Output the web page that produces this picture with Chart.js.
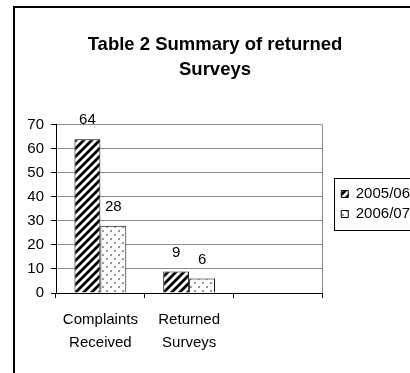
<!DOCTYPE html>
<html>
<head>
<meta charset="utf-8">
<script src="https://cdn.jsdelivr.net/npm/chart.js@4.4.1/dist/chart.umd.min.js"></script>
<style>
  html, body { margin: 0; padding: 0; background: #fff; overflow: hidden; }
  #wrap { position: relative; width: 410px; height: 373px; overflow: hidden; }
  #surveyChart { position: absolute; left: 0; top: 0; }
</style>
</head>
<body>
<div id="wrap"><canvas id="surveyChart" width="421" height="408"></canvas></div>
<script>
const categories = [['Complaints', 'Received'], ['Returned', 'Surveys'], ''];
const seriesNames = ['2005/06', '2006/07'];
const values0506 = [64, 9, null];
const values0607 = [28, 6, null];
const yTicks = [0, 10, 20, 30, 40, 50, 60, 70];

const FONT = '"Liberation Sans", Arial, sans-serif';
Chart.defaults.font.family = FONT;
Chart.defaults.color = '#000';

// hatch fills like the old excel chart
function stripePattern() {
  const c = document.createElement('canvas');
  c.width = 8; c.height = 8;
  const g = c.getContext('2d');
  g.fillStyle = '#fff';
  g.fillRect(0, 0, 8, 8);
  g.strokeStyle = '#000';
  g.lineWidth = 2.8;
  g.beginPath();
  g.moveTo(-2, 10); g.lineTo(10, -2);
  g.moveTo(-6, 6); g.lineTo(6, -6);
  g.moveTo(2, 14); g.lineTo(14, 2);
  g.stroke();
  return g.createPattern(c, 'repeat');
}

function dotPattern() {
  const c = document.createElement('canvas');
  c.width = 8; c.height = 8;
  const g = c.getContext('2d');
  g.fillStyle = '#fff';
  g.fillRect(0, 0, 8, 8);
  g.fillStyle = '#999';
  g.fillRect(2, 2, 2, 2);
  g.fillRect(6, 6, 2, 2);
  return g.createPattern(c, 'repeat');
}

// outer frame + legend border
const frame = {
  id: 'frame',
  beforeDraw(chart) {
    const ctx = chart.ctx;
    ctx.save();
    ctx.fillStyle = '#fff';
    ctx.fillRect(0, 0, chart.width, chart.height);
    ctx.strokeStyle = '#000';
    ctx.lineWidth = 2;
    ctx.beginPath();
    ctx.moveTo(14, chart.height);
    ctx.lineTo(14, 7);
    ctx.lineTo(chart.width, 7);
    ctx.stroke();
    ctx.restore();
  },
  afterDraw(chart) {
    const ctx = chart.ctx;
    const lg = chart.legend;
    const mid = (lg.top + lg.bottom) / 2;
    ctx.save();
    ctx.strokeStyle = '#000';
    ctx.lineWidth = 1;
    ctx.strokeRect(Math.round(lg.left) - 2 + 0.5, Math.round(mid - 26) + 0.5, 120, 52);
    ctx.restore();
  }
};

// value labels above the bars
const barValueLabels = {
  id: 'barValueLabels',
  afterDatasetsDraw(chart) {
    const ctx = chart.ctx;
    ctx.save();
    ctx.font = '15px ' + FONT;
    ctx.fillStyle = '#000';
    ctx.textAlign = 'center';
    ctx.textBaseline = 'middle';
    chart.data.datasets.forEach((ds, i) => {
      chart.getDatasetMeta(i).data.forEach((bar, j) => {
        if (ds.data[j] == null) return;
        ctx.fillText(ds.data[j], bar.x, bar.y - 19);
      });
    });
    ctx.restore();
  }
};

const ctx = document.getElementById('surveyChart').getContext('2d');

new Chart(ctx, {
  type: 'bar',
  data: {
    labels: categories,
    datasets: [
      {
        label: seriesNames[0],
        data: values0506,
        backgroundColor: stripePattern(),
        borderColor: '#000',
        borderWidth: 1,
        categoryPercentage: 0.584,
        barPercentage: 1,
      },
      {
        label: seriesNames[1],
        data: values0607,
        backgroundColor: dotPattern(),
        borderColor: '#000',
        borderWidth: 1,
        categoryPercentage: 0.584,
        barPercentage: 1,
      },
    ],
  },
  options: {
    responsive: false,
    animation: false,
    layout: { padding: { left: 10, right: 1, top: 0, bottom: 0 } },
    plugins: {
      title: {
        display: true,
        text: ['Table 2 Summary of returned', 'Surveys'],
        color: '#000',
        font: { size: 18.5, weight: 'bold', lineHeight: 1.35 },
        padding: { top: 32, bottom: 43 },
      },
      legend: {
        position: 'right',
        maxWidth: 120,
        labels: {
          boxWidth: 7,
          boxHeight: 7,
          padding: 5,
          color: '#000',
          font: { size: 15 },
        },
      },
      tooltip: { enabled: false },
    },
    scales: {
      x: {
        offset: true,
        grid: {
          offset: true,
          color: c => (c.type === 'scale' ? '#8c8c8c' : 'rgba(0,0,0,0)'),
          tickColor: '#000',
          tickLength: 5,
        },
        border: { color: '#000' },
        ticks: {
          color: '#000',
          padding: 11,
          maxRotation: 0,
          autoSkip: false,
          font: { size: 15, lineHeight: 1.5 },
        },
        afterFit: s => { s.height = 115; },
      },
      y: {
        min: yTicks[0],
        max: yTicks[yTicks.length - 1],
        ticks: {
          stepSize: yTicks[1] - yTicks[0],
          color: '#000',
          padding: 7,
          font: { size: 15 },
        },
        grid: { color: '#8c8c8c', tickColor: '#000', tickLength: 5 },
        border: { color: '#000' },
        afterFit: s => { s.width = 46; },
      },
      // spacer between plot and legend
      y2: {
        position: 'right',
        grid: { display: false, drawTicks: false },
        ticks: { display: false },
        border: { display: false },
        afterFit: s => { s.width = 14; },
      },
    },
  },
  plugins: [frame, barValueLabels],
});
</script>
</body>
</html>
